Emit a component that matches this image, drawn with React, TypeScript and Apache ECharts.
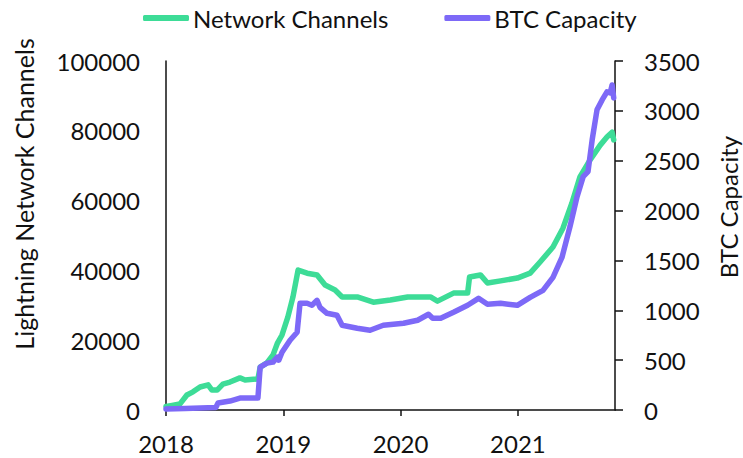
import React, { useEffect, useRef } from "react";
import * as echarts from "echarts";

const seriesNames = ["Network Channels", "BTC Capacity"];
const axisTitles = ["Lightning Network Channels", "BTC Capacity"];
const yearTicks = [2018, 2019, 2020, 2021];
const xEndDate = "2021-10-30";

const channelDates = [
  "2018-01-01", "2018-01-20", "2018-02-13", "2018-03-07", "2018-03-26", "2018-04-17",
  "2018-05-12", "2018-05-24", "2018-06-09", "2018-06-27", "2018-07-19", "2018-08-19",
  "2018-09-04", "2018-10-14", "2018-10-21", "2018-11-11", "2018-11-30", "2018-12-13",
  "2018-12-28", "2019-01-15", "2019-01-31", "2019-02-16", "2019-03-16", "2019-04-16",
  "2019-05-11", "2019-06-11", "2019-07-03", "2019-08-19", "2019-10-08", "2019-11-30",
  "2020-01-23", "2020-02-01", "2020-04-03", "2020-04-25", "2020-06-14", "2020-07-28",
  "2020-08-03", "2020-09-06", "2020-09-28", "2020-11-08", "2020-12-30", "2021-02-08",
  "2021-03-11", "2021-04-20", "2021-05-21", "2021-06-18", "2021-07-13", "2021-08-13",
  "2021-09-14", "2021-10-05", "2021-10-21", "2021-10-26",
];
const channelValues = [
  1000, 1300, 1700, 4300, 5200, 6600,
  7200, 5700, 5700, 7400, 8000, 9200,
  8600, 8900, 12300, 13500, 15800, 19000,
  21500, 26600, 32400, 40100, 39200, 38700,
  35800, 34400, 32400, 32400, 30900, 31500,
  32400, 32400, 32400, 31200, 33500, 33500,
  38100, 38700, 36400, 37000, 37800, 39200,
  42400, 46700, 52100, 59300, 66800, 71600,
  75900, 78200, 79600, 77400,
];

const capacityDates = [
  "2018-01-01", "2018-03-01", "2018-06-05", "2018-06-12", "2018-07-19", "2018-08-19",
  "2018-10-14", "2018-10-21", "2018-11-11", "2018-11-30", "2018-12-13", "2018-12-18",
  "2018-12-28", "2019-01-22", "2019-02-13", "2019-02-22", "2019-03-16", "2019-03-31",
  "2019-04-16", "2019-04-25", "2019-05-17", "2019-06-17", "2019-07-03", "2019-08-19",
  "2019-09-28", "2019-11-08", "2020-01-10", "2020-02-23", "2020-03-28", "2020-04-10",
  "2020-05-05", "2020-06-14", "2020-07-28", "2020-08-31", "2020-09-28", "2020-11-08",
  "2020-12-30", "2021-02-08", "2021-03-20", "2021-04-20", "2021-05-18", "2021-06-12",
  "2021-07-04", "2021-07-23", "2021-08-07", "2021-08-20", "2021-09-04", "2021-09-20",
  "2021-10-05", "2021-10-15", "2021-10-21", "2021-10-26",
];
const capacityValues = [
  10, 15, 25, 70, 90, 120,
  120, 430, 470, 480, 530, 500,
  580, 700, 780, 1070, 1070, 1050,
  1100, 1030, 970, 950, 850, 820,
  800, 850, 870, 900, 960, 920,
  920, 980, 1050, 1120, 1060, 1070,
  1050, 1130, 1200, 1330, 1530, 1840,
  2140, 2340, 2390, 2710, 3010, 3110,
  3190, 3180, 3260, 3130,
];

const GREEN = "#3ddc97";
const PURPLE = "#7d69f7";
const FONT = "Lato";

function toYear(d: string): number {
  const [y, m, day] = d.split("-").map(Number);
  const start = Date.UTC(y, 0, 1);
  const end = Date.UTC(y + 1, 0, 1);
  const t = Date.UTC(y, m - 1, day);
  return y + (t - start) / (end - start);
}

export default function App() {
  const ref = useRef<HTMLDivElement>(null);
  useEffect(() => {
    document.body.style.margin = "0";
    if (!ref.current) return;
    const chart = echarts.init(ref.current, null, { renderer: "svg" });
    const xMax = toYear(xEndDate);
    const labelStyle = { color: "#111", fontFamily: FONT, fontSize: 24 };
    chart.setOption({
      animation: false,
      textStyle: { fontFamily: FONT },
      legend: {
        left: 138,
        top: 1,
        itemWidth: 46,
        itemHeight: 6,
        itemGap: 56,
        icon: "roundRect",
        textStyle: { color: "#111", fontFamily: FONT, fontSize: 24, padding: [0, 0, 0, -1] },
        data: seriesNames,
      },
      grid: { left: 166, right: 128, top: 61, bottom: 48, containLabel: false },
      xAxis: {
        type: "value",
        min: yearTicks[0],
        max: xMax,
        interval: 1,
        axisLine: { show: true, lineStyle: { color: "#111", width: 1.5 } },
        axisTick: { show: true, length: 6, lineStyle: { color: "#111", width: 1.5 } },
        splitLine: { show: false },
        axisLabel: {
          ...labelStyle,
          margin: 21,
          showMaxLabel: false,
          formatter: (v: number) => (yearTicks.includes(v) ? String(v) : ""),
        },
      },
      yAxis: [
        {
          type: "value",
          min: 0,
          max: 100000,
          interval: 20000,
          position: "left",
          axisLine: { show: true, lineStyle: { color: "#111", width: 1.5 } },
          axisTick: { show: false },
          splitLine: { show: false },
          axisLabel: { ...labelStyle, margin: 26, formatter: (v: number) => String(v) },
        },
        {
          type: "value",
          min: 0,
          max: 3500,
          interval: 500,
          position: "right",
          axisLine: { show: true, lineStyle: { color: "#111", width: 1.5 } },
          axisTick: { show: true, length: 8, lineStyle: { color: "#111", width: 1.5 } },
          splitLine: { show: false },
          axisLabel: { ...labelStyle, margin: 29, formatter: (v: number) => String(v) },
        },
      ],
      graphic: [
        {
          type: "text",
          x: 11,
          y: 194,
          rotation: Math.PI / 2,
          style: {
            text: axisTitles[0],
            fill: "#111",
            font: `25px ${FONT}`,
            align: "center",
            verticalAlign: "top",
          },
        },
        {
          type: "text",
          x: 716,
          y: 207,
          rotation: Math.PI / 2,
          style: {
            text: axisTitles[1],
            fill: "#111",
            font: `24px ${FONT}`,
            align: "center",
            verticalAlign: "top",
          },
        },
      ],
      series: [
        {
          name: seriesNames[0],
          type: "line",
          yAxisIndex: 0,
          showSymbol: false,
          symbol: "none",
          lineStyle: { color: GREEN, width: 5.5, join: "round", cap: "round" },
          itemStyle: { color: GREEN },
          data: channelDates.map((d, i) => [toYear(d), channelValues[i]]),
        },
        {
          name: seriesNames[1],
          type: "line",
          yAxisIndex: 1,
          showSymbol: false,
          symbol: "none",
          lineStyle: { color: PURPLE, width: 5.5, join: "round", cap: "round" },
          itemStyle: { color: PURPLE },
          data: capacityDates.map((d, i) => [toYear(d), capacityValues[i]]),
        },
      ],
    });
    return () => chart.dispose();
  }, []);
  return <div ref={ref} style={{ width: 743, height: 458 }} />;
}
